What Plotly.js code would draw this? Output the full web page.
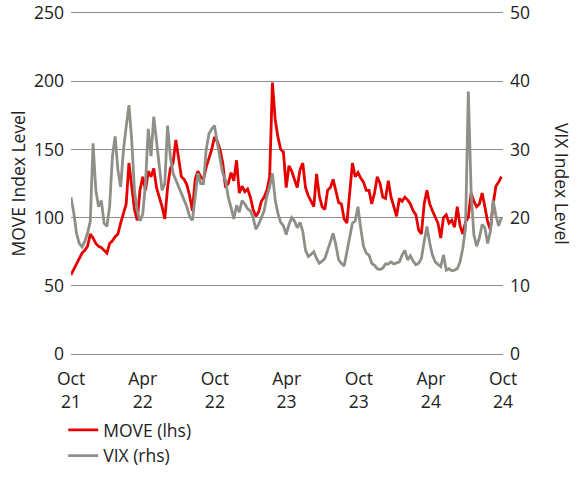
<!DOCTYPE html>
<html>
<head>
<meta charset="utf-8">
<script src="https://cdn.plot.ly/plotly-3.0.1.min.js"></script>
<style>
html,body{margin:0;padding:0;background:#fff;}
#chart{width:581px;height:477px;}
</style>
</head>
<body>
<div id="chart"></div>
<script>
// Weekly observation dates (as positioned in the reference)
const dates = [
"2021-10-01","2021-10-08","2021-10-15","2021-10-22","2021-10-29",
"2021-11-05","2021-11-12","2021-11-19","2021-11-26",
"2021-12-03","2021-12-10","2021-12-17","2021-12-24","2021-12-31",
"2022-01-07","2022-01-14","2022-01-21","2022-01-28",
"2022-02-04","2022-02-11","2022-02-18","2022-02-25",
"2022-03-04","2022-03-11","2022-03-18","2022-03-25",
"2022-04-01","2022-04-08","2022-04-15","2022-04-22","2022-04-29",
"2022-05-06","2022-05-13","2022-05-20","2022-05-27",
"2022-06-03","2022-06-10","2022-06-17","2022-06-24",
"2022-07-01","2022-07-08","2022-07-15","2022-07-22","2022-07-29",
"2022-08-05","2022-08-12","2022-08-19","2022-08-26",
"2022-09-02","2022-09-09","2022-09-16","2022-09-23","2022-09-30",
"2022-10-07","2022-10-14","2022-10-21","2022-10-28",
"2022-11-04","2022-11-11","2022-11-18","2022-11-25",
"2022-12-02","2022-12-09","2022-12-16","2022-12-23","2022-12-30",
"2023-01-06","2023-01-13","2023-01-20","2023-01-27",
"2023-02-03","2023-02-10","2023-02-17","2023-02-24",
"2023-03-03","2023-03-10","2023-03-17","2023-03-24","2023-03-31",
"2023-04-07","2023-04-14","2023-04-21","2023-04-28",
"2023-05-05","2023-05-12","2023-05-19","2023-05-26",
"2023-06-02","2023-06-09","2023-06-16","2023-06-23","2023-06-30",
"2023-07-07","2023-07-14","2023-07-21","2023-07-28",
"2023-08-04","2023-08-11","2023-08-18","2023-08-25",
"2023-09-01","2023-09-08","2023-09-15","2023-09-22","2023-09-29",
"2023-10-06","2023-10-13","2023-10-20","2023-10-27",
"2023-11-03","2023-11-10","2023-11-17","2023-11-24",
"2023-12-01","2023-12-08","2023-12-15","2023-12-22","2023-12-29",
"2024-01-05","2024-01-12","2024-01-19","2024-01-26",
"2024-02-02","2024-02-09","2024-02-16","2024-02-23",
"2024-03-01","2024-03-08","2024-03-15","2024-03-22","2024-03-29",
"2024-04-05","2024-04-12","2024-04-19","2024-04-26",
"2024-05-03","2024-05-10","2024-05-17","2024-05-24","2024-05-31",
"2024-06-07","2024-06-14","2024-06-21","2024-06-28",
"2024-07-05","2024-07-12","2024-07-19","2024-07-26",
"2024-08-02","2024-08-09","2024-08-16","2024-08-23","2024-08-30",
"2024-09-06","2024-09-13","2024-09-20","2024-09-27"
];

// MOVE index (left axis)
const moveValues = [
58,62,66,70,74,76,79,88,85,81,79,78,76,74,81,83,86,88,96,103,110,140,125,106,98,120,
130,120,134,130,136,122,115,108,99,122,136,140,157,143,130,128,124,116,105,128,134,130,128,137,144,150,
159,156,150,140,122,125,133,127,142,118,123,119,121,115,106,101,104,112,115,120,130,199,172,159,150,148,
122,138,134,128,122,135,140,122,116,112,108,132,116,108,106,120,122,128,120,111,110,99,96,118,140,130,
133,129,126,120,120,110,118,130,125,115,114,127,115,108,101,114,112,115,113,110,105,102,91,88,110,
120,110,105,100,96,85,100,102,96,98,93,108,94,88,97,100,118,112,108,110,118,108,97,91,110,123,126,130
];

// VIX index (right axis)
const vixValues = [
23,20.7,17.7,16.2,15.7,16.5,17.7,19.5,30.9,24,21.6,22.5,19.2,18.7,21.6,28.9,31.9,27,24.5,29.9,33.3,36.5,31.4,24,21,19.5,
20.5,25,33,29,34.8,31,28,24,25,33.5,29,26.5,25.5,24.5,23.5,22.5,21.6,20.1,19.6,23,26.5,25,25,30,32.3,33,
33.5,31,29,26.5,25.5,23,21.5,19.8,21.8,20.8,22.5,22,21.3,21,20,18.3,19,20,21,23.2,24.5,26.5,22.6,20.6,19.3,18.8,
17.5,19,20,19.5,18.5,19.3,18,15.2,14.3,14.6,15,14,13.3,13.6,14,15.2,16.5,17.7,16,13.8,13.3,12.9,15,17.2,19.2,19.5,
21.6,18.5,15.8,14.8,14.5,13.3,13,12.5,12.4,12.6,13.2,13.2,13.5,13.2,13.3,13.5,14.5,15.2,13.8,14.4,13.6,13.1,13.3,14,16.5,
18.7,16.3,14.5,13.5,13.1,12.8,14.5,12.3,12.5,12.2,12.3,12.5,13.5,15.5,18.5,38.5,24,17.5,15.8,17,19,18.5,16.2,18,22.5,20.3,18.8,20
];

const tickDates = ["2021-10-01","2022-04-01","2022-10-01","2023-04-01","2023-10-01","2024-04-01","2024-10-01"];
const tickLabels = ["Oct<br>21","Apr<br>22","Oct<br>22","Apr<br>23","Oct<br>23","Apr<br>24","Oct<br>24"];

const seriesNames = ["MOVE (lhs)", "VIX (rhs)"];
const axisTitles = ["MOVE Index Level", "VIX Index Level"];

const FONT = '"Open Sans", "Noto Sans", sans-serif';
const TXT = '#222222';
const FS = 17.5;

const traces = [
  {
    x: dates, y: vixValues, name: seriesNames[1], type: 'scatter', mode: 'lines',
    line: {color: '#8f8f88', width: 2.8}, yaxis: 'y2'
  },
  {
    x: dates, y: moveValues, name: seriesNames[0], type: 'scatter', mode: 'lines',
    line: {color: '#e60000', width: 2.8}, yaxis: 'y'
  }
];

const layout = {
  width: 581, height: 477,
  margin: {l: 71, r: 78, t: 13, b: 123, autoexpand: false},
  paper_bgcolor: '#ffffff', plot_bgcolor: '#ffffff',
  font: {family: FONT, size: FS, color: TXT},
  showlegend: true,
  legend: {
    x: -0.018, y: -0.170, xanchor: 'left', yanchor: 'top',
    orientation: 'v', traceorder: 'reversed',
    font: {family: FONT, size: FS, color: TXT},
    bgcolor: 'rgba(0,0,0,0)', tracegroupgap: 0
  },
  xaxis: {
    type: 'date',
    range: ['2021-10-01', '2024-10-01'],
    tickmode: 'array', tickvals: tickDates, ticktext: tickLabels,
    showgrid: false, zeroline: false,
    showline: true, mirror: true, linecolor: '#8c8c8c', linewidth: 1,
    ticks: '',
    tickfont: {family: FONT, size: FS, color: TXT},
    ticklabelstandoff: 9
  },
  yaxis: {
    range: [0, 250], dtick: 50, tick0: 0,
    showgrid: true, gridcolor: '#8c8c8c', gridwidth: 1,
    zeroline: false, showline: false, ticks: '',
    tickfont: {family: FONT, size: FS, color: TXT},
    ticklabelstandoff: 6
  },
  yaxis2: {
    range: [0, 50], dtick: 10, tick0: 0,
    overlaying: 'y', side: 'right',
    showgrid: false, zeroline: false, showline: false, ticks: '',
    tickfont: {family: FONT, size: FS, color: TXT},
    ticklabelstandoff: 6
  },
  annotations: [
    {text: axisTitles[0], xref: 'paper', yref: 'paper', x: -0.125, y: 0.5,
     xanchor: 'center', yanchor: 'middle', textangle: -90, showarrow: false,
     font: {family: FONT, size: FS, color: TXT}},
    {text: axisTitles[1], xref: 'paper', yref: 'paper', x: 1.138, y: 0.5,
     xanchor: 'center', yanchor: 'middle', textangle: 90, showarrow: false,
     font: {family: FONT, size: FS, color: TXT}}
  ]
};

Plotly.newPlot('chart', traces, layout, {displayModeBar: false, staticPlot: true});
</script>
</body>
</html>
